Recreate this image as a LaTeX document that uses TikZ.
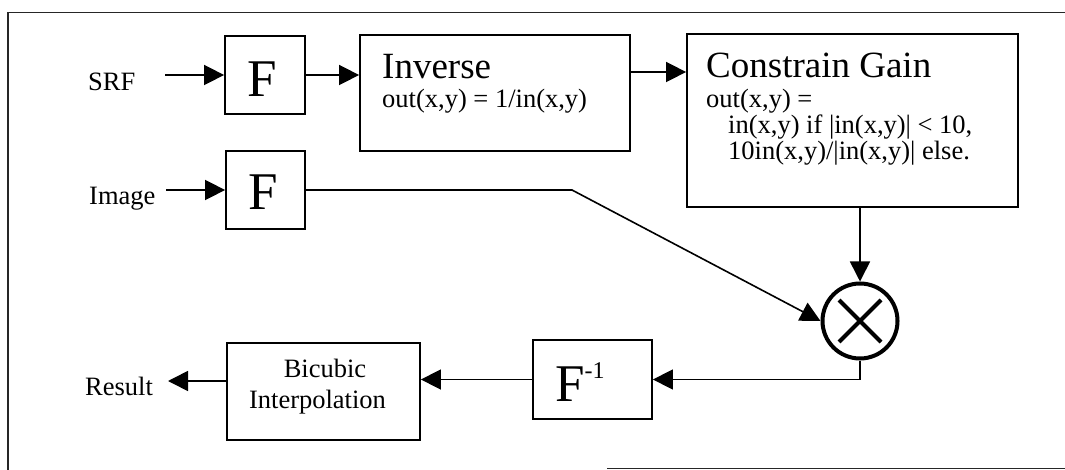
\documentclass[tikz,border=0pt]{standalone}
\usepackage{fontspec}
\setmainfont{Liberation Serif}
\usetikzlibrary{arrows.meta}
\begin{document}
\begin{tikzpicture}[x=1pt,y=-1pt,
  box/.style={draw, line width=1.8pt, inner sep=0pt},
  conn/.style={line width=1.6pt, -{Triangle[length=20pt,width=20pt]}},
  txt/.style={inner sep=0pt, anchor=base west, font=\fontsize{26.5}{30}\selectfont},
  ctxt/.style={inner sep=0pt, anchor=base, font=\fontsize{26.5}{30}\selectfont},
  bigtxt/.style={inner sep=0pt, anchor=base west, font=\fontsize{37}{42}\selectfont},
  hugetxt/.style={inner sep=0pt, anchor=base west, font=\fontsize{53}{60}\selectfont}]
\useasboundingbox (0,0) rectangle (1065,470);
\fill[white] (0,0) rectangle (1065,470);
% frame
\draw[line width=1.2pt, black!85] (1065,12.5) -- (8,12.5) -- (8,470);
\draw[line width=1.2pt, black!85] (607,468.5) -- (1065,468.5);

% boxes
\node[box, minimum width=80pt, minimum height=78pt] (f1) at (265,75) {};
\node[hugetxt] (f1t) at (247,97) {F};
\node[box, minimum width=79pt, minimum height=78pt] (f2) at (265.5,190) {};
\node[hugetxt] (f2t) at (248,210) {F};
\node[box, minimum width=270pt, minimum height=116pt] (inv) at (495,93) {};
\node[bigtxt] (invt) at (382,79) {Inverse};
\node[txt] (invf) at (382,108) {out(x,y) = 1/in(x,y)};
\node[box, minimum width=331pt, minimum height=173pt] (cg) at (852.5,120.5) {};
\node[bigtxt] (cgt) at (706,78) {Constrain Gain};
\node[txt] (cg1) at (706,108) {out(x,y) =};
\node[txt] (cg2) at (728,134) {in(x,y) if |in(x,y)| < 10,};
\node[txt] (cg3) at (728,160) {10in(x,y)/|in(x,y)| else.};
\node[draw, circle, line width=4pt, minimum size=75pt, inner sep=0pt] (mult) at (860,321) {};
\draw[line width=4pt] ([shift={(-21,-21)}]mult.center) -- ([shift={(21,21)}]mult.center);
\draw[line width=4pt] ([shift={(-21,21)}]mult.center) -- ([shift={(21,-21)}]mult.center);
\node[box, minimum width=119pt, minimum height=79pt] (finv) at (592.5,379.5) {};
\node[hugetxt] (finvt) at (555,401) {F\raisebox{23pt}{\fontsize{24}{24}\selectfont -1}};
\node[box, minimum width=193pt, minimum height=97pt] (bic) at (323.5,391.5) {};
\node[ctxt] (bic1) at (325,377) {Bicubic};
\node[ctxt] (bic2) at (317.5,408) {Interpolation};

% labels
\node[txt] (srf) at (88,91) {SRF};
\node[txt] (img) at (89,205) {Image};
\node[txt] (res) at (85,395) {Result};

% connectors
\coordinate (srfin) at (165,75);
\coordinate (imgin) at (166,190);
\coordinate (bend) at (572,190);
\coordinate (resout) at (168,381);
\draw[conn] (srfin) -- (f1.west);
\draw[conn] (imgin) -- (f2.west);
\draw[conn] (f1.east) -- (f1.east -| inv.west);
\draw[conn] ([yshift=3pt]f1.east -| inv.east) -- ([yshift=3pt]f1.east -| cg.west);
\draw[conn] (mult.north |- cg.south) -- (mult.north);
\draw[conn] (f2.east) -- (bend) -- (mult.west);
\draw[conn] (mult.south) -- (mult.south |- finv.east) -- (finv.east);
\draw[conn] (finv.west) -- (finv.west -| bic.east);
\draw[conn] (bic.west |- resout) -- (resout);
\end{tikzpicture}
\end{document}
